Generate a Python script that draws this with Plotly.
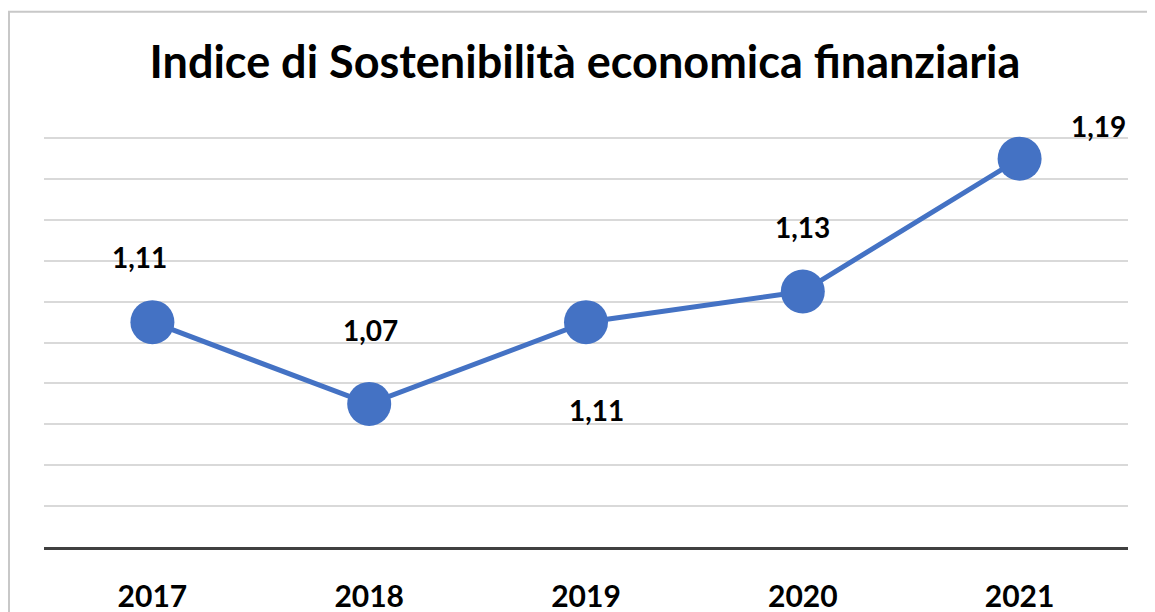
import plotly.graph_objects as go

years = [2017, 2018, 2019, 2020, 2021]
year_labels = ["2017", "2018", "2019", "2020", "2021"]
values = [1.11, 1.07, 1.11, 1.125, 1.19]
labels = ["1,11", "1,07", "1,11", "1,13", "1,19"]
title_text = "Indice di Sostenibilità economica finanziaria"

# label offsets in pixels (style only)
label_dx = [-13, 1, 10, 0, 79]
label_dy = [65, 74, -88, 65, 33]

BLUE = "#4472C4"
FONT = "Lato"

fig = go.Figure()
fig.add_trace(go.Scatter(
    x=years, y=values, mode="lines+markers",
    line=dict(color=BLUE, width=5),
    marker=dict(size=44, color=BLUE),
    hoverinfo="skip", showlegend=False, cliponaxis=False,
))

for x, y, t, dx, dy in zip(years, values, labels, label_dx, label_dy):
    fig.add_annotation(x=x, y=y, text=t, showarrow=False,
                       xshift=dx, yshift=dy,
                       font=dict(family=FONT, size=28, color="black", weight="bold"))

# outer chart frame (only top/left visible in the reference)
fig.add_shape(type="rect", xref="paper", yref="paper",
              x0=-0.0323, y0=1.2776, x1=1.2, y1=-0.5,
              line=dict(color="#c8c8c8", width=2), layer="below")

fig.update_layout(
    width=1147, height=604,
    margin=dict(l=36, r=27, t=120, b=65, autoexpand=False),
    paper_bgcolor="white", plot_bgcolor="white",
    title=dict(text=title_text, x=0.503, xanchor="center",
               y=0.911, yanchor="middle",
               font=dict(family=FONT, size=45, color="black", weight="bold")),
    xaxis=dict(type="linear", range=[2016.5, 2021.5], tickvals=years,
               ticktext=year_labels, showgrid=False, showline=True,
               linecolor="#404040", linewidth=3, ticks="",
               tickfont=dict(family=FONT, size=30, color="black", weight="bold"),
               ticklabelstandoff=21, zeroline=False, fixedrange=True,
               automargin=False),
    yaxis=dict(range=[1.0, 1.205], dtick=0.02, tick0=1.0, showgrid=True,
               gridcolor="#d9d9d9", gridwidth=1.5, showticklabels=False,
               zeroline=False, showline=False, ticks="", fixedrange=True,
               automargin=False),
)

fig.write_html("out.html")
